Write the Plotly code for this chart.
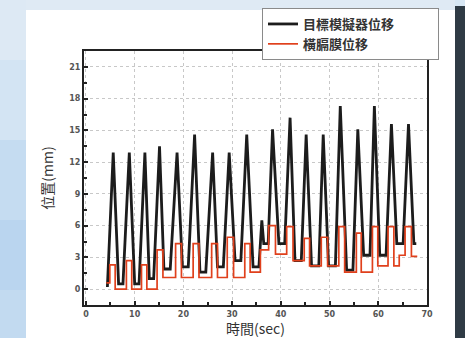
import plotly.graph_objects as go

# Target simulator displacement (black)
black_t = [4.4, 5.6, 6.7, 7.6, 8.9, 10.0, 10.9, 12.1, 13.0, 13.9, 15.1, 16.0, 17.3, 18.7,
           19.8, 21.0, 22.3, 23.4, 24.6, 26.0, 27.0, 28.2, 29.4, 30.6, 31.8, 33.0, 34.3, 35.5,
           36.1, 36.5, 37.4, 38.3, 39.6, 40.8, 41.9, 42.9, 44.2, 45.2, 46.3, 47.8, 48.7, 49.8,
           51.2, 52.2, 53.5, 54.8, 55.8, 57.0, 58.3, 59.2, 60.3, 61.6, 62.7, 63.8, 65.1, 66.2,
           67.3, 67.8]
black_v = [0.2, 12.9, 0.5, 0.5, 12.9, 0.5, 0.5, 12.9, 1.0, 1.0, 13.5, 1.9, 1.9, 12.9,
           2.1, 2.1, 14.6, 1.6, 1.6, 12.9, 2.1, 2.1, 12.9, 2.7, 2.7, 14.6, 2.1, 2.1,
           6.5, 4.3, 4.3, 15.1, 4.3, 4.3, 16.2, 2.7, 2.7, 14.6, 2.2, 2.2, 14.6, 2.2,
           2.2, 17.3, 1.8, 1.8, 15.1, 3.2, 3.2, 17.3, 3.2, 3.2, 15.6, 4.3, 4.3, 15.6,
           4.3, 4.3]

# Diaphragm displacement (red, stepwise)
red_t = [4.2, 4.9, 6.0, 8.3, 9.4, 11.4, 12.5, 14.6, 15.8, 18.4, 19.6, 22.0, 23.2, 25.8,
         27.0, 29.0, 30.3, 32.6, 33.7, 35.8, 37.5, 38.9, 41.2, 42.5, 44.8, 45.9, 48.3,
         49.6, 51.9, 53.1, 55.5, 56.5, 58.8, 59.9, 62.0, 63.2, 64.3, 65.5, 66.8, 68.0]
red_v = [0.6, 2.3, 0.0, 2.7, 0.0, 2.3, 0.0, 3.7, 1.1, 4.3, 1.1, 4.3, 1.1, 4.3,
         1.1, 4.9, 1.1, 4.3, 1.6, 3.7, 6.0, 3.3, 5.9, 2.7, 4.8, 2.2, 4.9,
         2.2, 5.9, 1.6, 5.3, 1.6, 5.9, 2.2, 5.9, 2.2, 3.2, 5.9, 3.1, 3.1]

x_ticks = [0, 10, 20, 30, 40, 50, 60, 70]
y_ticks = [0, 3, 6, 9, 12, 15, 18, 21]

series_names = ["目標模擬器位移", "橫膈膜位移"]

fig = go.Figure()
fig.add_trace(go.Scatter(x=black_t, y=black_v, mode="lines", name=series_names[0],
                         line=dict(color="#1c1c1c", width=2.8)))
fig.add_trace(go.Scatter(x=red_t, y=red_v, mode="lines", name=series_names[1],
                         line=dict(color="#e0401c", width=1.7, shape="hv")))

L, R, T, B = 84, 38, 51, 33
W, H = 465, 338
pw, ph = W - L - R, H - T - B


def px(x):
    return (x - L) / pw


def py(y):
    return (H - B - y) / ph


shapes = []
# left slide background bands (light blue, getting deeper towards the bottom)
bands = [(-5, 60, "#dde9f4"), (60, 140, "#d3e4f3"), (140, 220, "#c5dcf1"),
         (220, 290, "#bad5ef"), (290, 345, "#c2daf0")]
for y0, y1, c in bands:
    shapes.append(dict(type="rect", xref="paper", yref="paper", x0=px(-5), x1=px(26),
                       y0=py(y1), y1=py(y0), fillcolor=c, line=dict(width=0), layer="below"))
shapes += [
    dict(type="rect", xref="paper", yref="paper", x0=px(26), x1=px(455), y0=py(-5), y1=py(10),
         fillcolor="#dfeaf4", line=dict(width=0), layer="below"),
    dict(type="rect", xref="paper", yref="paper", x0=px(26), x1=px(455), y0=py(345), y1=py(10),
         fillcolor="white", line=dict(width=0), layer="below"),
    dict(type="rect", xref="paper", yref="paper", x0=px(455), x1=px(470), y0=py(345), y1=py(6),
         fillcolor="#2f3b45", line=dict(width=0), layer="below"),
]

fig.update_layout(
    width=W, height=H,
    margin=dict(l=L, r=R, t=T, b=B, autoexpand=False),
    paper_bgcolor="#d7e7f4",
    plot_bgcolor="white",
    shapes=shapes,
    showlegend=True,
    legend=dict(x=px(262), y=py(8), xanchor="left", yanchor="top",
                orientation="h", entrywidth=130, entrywidthmode="pixels",
                bgcolor="white", bordercolor="#8a8a8a", borderwidth=1,
                font=dict(family="Noto Sans CJK TC", size=13, color="#333333", weight="bold"),
                itemwidth=30, tracegroupgap=0),
    font=dict(family="DejaVu Sans", color="#444444"),
    xaxis=dict(range=[-0.4, 70], tickvals=x_ticks, ticktext=[str(v) for v in x_ticks],
               ticks="inside", ticklen=4, tickwidth=1.5, tickcolor="#222",
               minor=dict(dtick=5, ticks="inside", ticklen=3, tickcolor="#222", showgrid=False),
               showline=True, linecolor="#222", linewidth=2, mirror=True,
               showgrid=True, gridcolor="#c8c8c8", griddash="dot", gridwidth=1,
               zeroline=False,
               tickfont=dict(size=8, color="#555555", weight="bold"),
               title=dict(text="時間(sec)", standoff=8,
                          font=dict(family="Noto Sans CJK TC", size=14, color="#333333"))),
    yaxis=dict(range=[-1.5, 22.5], tickvals=y_ticks, ticktext=[str(v) for v in y_ticks],
               ticks="inside", ticklen=4, tickwidth=1.5, tickcolor="#222",
               minor=dict(dtick=1.5, tick0=0, ticks="inside", ticklen=3, tickcolor="#222", showgrid=False),
               showline=True, linecolor="#222", linewidth=2, mirror=True,
               showgrid=True, gridcolor="#c8c8c8", griddash="dot", gridwidth=1,
               zeroline=False,
               tickfont=dict(size=8, color="#555555", weight="bold"),
               title=dict(text="位置(mm)", standoff=12,
                          font=dict(family="Noto Sans CJK TC", size=14, color="#333333"))),
)

fig.write_html("out.html", config={"displayModeBar": False},
               post_script="document.body.style.margin='0';document.body.style.overflow='hidden';")
